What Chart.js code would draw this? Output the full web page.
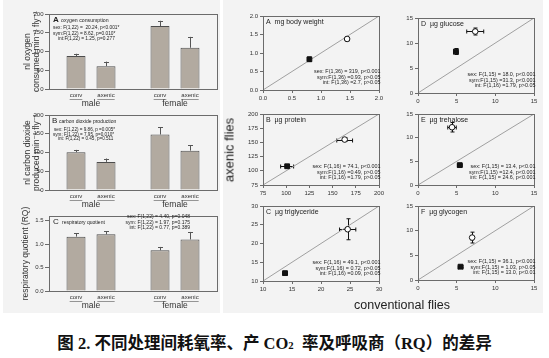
<!DOCTYPE html>
<html>
<head>
<meta charset="utf-8">
<script src="https://cdn.jsdelivr.net/npm/chart.js@4.4.1/dist/chart.umd.min.js"></script>
<style>
  html, body { margin: 0; padding: 0; background: #fff; }
  #fig { position: relative; width: 549px; height: 358px; overflow: hidden; font-family: 'Liberation Sans', Arial, sans-serif; }
  .panel { position: absolute; background: #f3f3f3; }
  canvas { position: absolute; }
  #ylab { position: absolute; left: 229px; top: 150px; transform: translate(-50%, -50%) rotate(-90deg); font-size: 13px; color: #222; white-space: nowrap; }
  #xlab { position: absolute; left: 402px; top: 305px; transform: translate(-50%, -50%); font-size: 12.5px; color: #222; white-space: nowrap; }
  #caption { position: absolute; left: 0; width: 549px; top: 330px; text-align: center; font-family: 'Liberation Serif', 'Noto Sans CJK SC', serif; font-weight: bold; font-size: 16.5px; color: #111; white-space: nowrap; }
  #caption sub { font-size: 0.65em; vertical-align: baseline; }
</style>
</head>
<body>
<div id="fig">
  <div class="panel" style="left:3px;top:0;width:217px;height:313px"></div>
  <div class="panel" style="left:223px;top:0;width:320px;height:313px"></div>
  <canvas id="barA"></canvas>
  <canvas id="barB"></canvas>
  <canvas id="barC"></canvas>
  <canvas id="scA"></canvas>
  <canvas id="scB"></canvas>
  <canvas id="scC"></canvas>
  <canvas id="scD"></canvas>
  <canvas id="scE"></canvas>
  <canvas id="scF"></canvas>
  <div id="ylab">axenic flies</div>
  <div id="xlab">conventional flies</div>
  <div id="caption">图 2. 不同处理间耗氧率、产 CO<sub>2</sub> &nbsp;率及呼吸商（RQ）的差异</div>
</div>
<script>
/* ── Data ── */
const sexes = ['male', 'female'];
const treatments = ['conv', 'axenic'];

// oxygen consumption, nl min-1 fly-1
const o2Axis = [0, 50, 100, 150, 200];
const o2Conv = [88, 168];
const o2ConvSe = [6, 14];
const o2Axenic = [61, 110];
const o2AxenicSe = [12, 29];

// carbon dioxide production
const co2Axis = [0, 50, 100, 150, 200];
const co2Conv = [101, 148];
const co2ConvSe = [6, 19];
const co2Axenic = [75, 105];
const co2AxenicSe = [9, 15];

// respiratory quotient
const rqAxis = [0, 0.5, 1.0, 1.5];
const rqConv = [1.16, 0.87];
const rqConvSe = [0.07, 0.07];
const rqAxenic = [1.21, 1.10];
const rqAxenicSe = [0.06, 0.16];

// conventional (x) vs axenic (y): [x, y], errors [xErr, yErr]
const bwAxis = [0, 0.5, 1.0, 1.5, 2.0];
const bwMale = [0.80, 0.83];
const bwMaleErr = [0.02, 0.06];
const bwFemale = [1.45, 1.38];
const bwFemaleErr = [0.03, 0.03];

const protAxis = [75, 100, 125, 150, 175, 200];
const protMale = [101, 108];
const protMaleErr = [7, 3];
const protFemale = [163, 155];
const protFemaleErr = [8.5, 3];

const tagAxis = [10, 15, 20, 25, 30];
const tagMale = [13.8, 12.1];
const tagMaleErr = [0.4, 0.4];
const tagFemale = [24.6, 23.8];
const tagFemaleErr = [1.4, 2.8];

const gluAxis = [0, 5, 10, 15];
const gluMale = [4.9, 8.3];
const gluMaleErr = [0.3, 0.6];
const gluFemale = [7.4, 12.3];
const gluFemaleErr = [1.1, 0.7];

const treAxis = [0, 5, 10, 15];
const treMale = [5.4, 4.2];
const treMaleErr = [0.3, 0.2];
const treFemale = [4.4, 12.2];
const treFemaleErr = [0.55, 1.0];

const glyAxis = [0, 5, 10, 15];
const glyMale = [5.5, 2.7];
const glyMaleErr = [0.3, 0.2];
const glyFemale = [7.0, 8.6];
const glyFemaleErr = [0.15, 1.1];

/* ── Look ── */
const FONT = "'Liberation Sans', 'DejaVu Sans', Arial, sans-serif";
const BAR_FILL = '#b2aaa0';
const BAR_EDGE = '#4d4d4d';
const AXIS = '#6b6b6b';
const INK = '#222';

Chart.defaults.font.family = FONT;
Chart.defaults.color = '#333';
Chart.defaults.animation = false;
Chart.defaults.responsive = false;
Chart.defaults.events = [];
Chart.defaults.plugins.legend.display = false;
Chart.defaults.plugins.tooltip.enabled = false;
Chart.defaults.plugins.colors = { enabled: false };

function place(id, left, top, w, h) {
  const c = document.getElementById(id);
  c.width = w; c.height = h;
  c.style.left = left + 'px'; c.style.top = top + 'px';
  return c;
}

/* ── Plugins ── */
const frame = {
  id: 'frame',
  afterDatasetsDraw(chart) {
    const { ctx, chartArea: a } = chart;
    ctx.save();
    ctx.strokeStyle = AXIS;
    ctx.lineWidth = 1;
    ctx.strokeRect(Math.round(a.left) + 0.5, Math.round(a.top) + 0.5,
                   Math.round(a.right - a.left), Math.round(a.bottom - a.top));
    ctx.restore();
  }
};

function notes(items) {
  return {
    id: 'notes',
    afterDraw(chart) {
      const { ctx, chartArea: a } = chart;
      items.forEach(n => {
        ctx.save();
        ctx.font = (n.bold ? 'bold ' : '') + n.size + 'px ' + FONT;
        ctx.fillStyle = INK;
        ctx.textAlign = n.align || 'left';
        ctx.textBaseline = 'middle';
        const x = n.right ? a.right + n.x : a.left + n.x;
        const y = n.bottom ? a.bottom + n.y : a.top + n.y;
        ctx.fillText(n.text, x, y);
        ctx.restore();
      });
    }
  };
}

const barErrors = {
  id: 'barErrors',
  afterDatasetsDraw(chart) {
    const { ctx, scales: { y } } = chart;
    ctx.save();
    ctx.strokeStyle = '#555';
    ctx.lineWidth = 1;
    chart.data.datasets.forEach((ds, i) => {
      chart.getDatasetMeta(i).data.forEach((bar, j) => {
        const top = y.getPixelForValue(ds.data[j] + ds.se[j]);
        const x = Math.round(bar.x) + 0.5;
        ctx.beginPath();
        ctx.moveTo(x, bar.y);
        ctx.lineTo(x, top);
        ctx.moveTo(x - 2.5, Math.round(top) + 0.5);
        ctx.lineTo(x + 2.5, Math.round(top) + 0.5);
        ctx.stroke();
      });
    });
    ctx.restore();
  }
};

const barSubLabels = {
  id: 'barSubLabels',
  afterDraw(chart) {
    const { ctx, chartArea: a } = chart;
    ctx.save();
    ctx.font = '6px ' + FONT;
    ctx.fillStyle = '#333';
    ctx.strokeStyle = '#555';
    ctx.textAlign = 'center';
    ctx.textBaseline = 'middle';
    chart.data.datasets.forEach((ds, i) => {
      chart.getDatasetMeta(i).data.forEach(bar => {
        const y = a.bottom + 6.5;
        ctx.fillText(ds.label, bar.x, y);
        const w = ctx.measureText(ds.label).width;
        ctx.beginPath();
        ctx.moveTo(bar.x - w / 2, Math.round(y + 3) + 0.5);
        ctx.lineTo(bar.x + w / 2, Math.round(y + 3) + 0.5);
        ctx.lineWidth = 0.6;
        ctx.stroke();
      });
    });
    ctx.restore();
  }
};

const xyErrors = {
  id: 'xyErrors',
  beforeDatasetsDraw(chart) {
    const { ctx, scales: { x, y } } = chart;
    ctx.save();
    ctx.strokeStyle = '#111';
    ctx.lineWidth = 1;
    chart.data.datasets.forEach((ds, i) => {
      if (!ds.err) return;
      chart.getDatasetMeta(i).data.forEach((pt, j) => {
        const v = ds.data[j];
        const [ex, ey] = ds.err;
        const x1 = x.getPixelForValue(v.x - ex), x2 = x.getPixelForValue(v.x + ex);
        const y1 = y.getPixelForValue(v.y - ey), y2 = y.getPixelForValue(v.y + ey);
        const px = Math.round(pt.x) + 0.5, py = Math.round(pt.y) + 0.5;
        ctx.beginPath();
        ctx.moveTo(x1, py); ctx.lineTo(x2, py);
        ctx.moveTo(x1, py - 2); ctx.lineTo(x1, py + 2);
        ctx.moveTo(x2, py - 2); ctx.lineTo(x2, py + 2);
        ctx.moveTo(px, y1); ctx.lineTo(px, y2);
        ctx.moveTo(px - 2, y1); ctx.lineTo(px + 2, y1);
        ctx.moveTo(px - 2, y2); ctx.lineTo(px + 2, y2);
        ctx.stroke();
      });
    });
    ctx.restore();
  }
};

/* ── Bar charts (left) ── */
function barChart(id, top, conv, convSe, axe, axeSe, axis, yMax, yTitle, titlePad, fmt, items) {
  const canvas = place(id, 0, top, 220, 110);
  const barStyle = {
    backgroundColor: BAR_FILL, borderColor: BAR_EDGE, borderWidth: 1,
    categoryPercentage: 0.714, barPercentage: 0.633,
  };
  new Chart(canvas, {
    type: 'bar',
    data: {
      labels: sexes,
      datasets: [
        Object.assign({ label: treatments[0], data: conv, se: convSe }, barStyle),
        Object.assign({ label: treatments[1], data: axe, se: axeSe }, barStyle),
      ]
    },
    options: {
      layout: { padding: { top: 14, right: 3, left: 0, bottom: 0 } },
      scales: {
        x: {
          grid: { display: false, drawTicks: false },
          border: { display: false },
          ticks: { font: { size: 8.5 }, padding: 10, color: '#333' },
          afterFit: s => { s.height = 21; }
        },
        y: {
          min: axis[0], max: yMax,
          afterBuildTicks: s => { s.ticks = axis.map(v => ({ value: v })); },
          ticks: { font: { size: 6 }, padding: 1.5, color: '#333', callback: fmt },
          grid: { drawOnChartArea: false, tickLength: 4, color: AXIS },
          border: { display: false },
          title: { display: true, text: yTitle, font: { size: 8.5, lineHeight: 1.1 }, color: '#333', padding: { top: titlePad, bottom: 0 } },
          afterFit: s => { s.width = 49; }
        }
      }
    },
    plugins: [frame, barErrors, barSubLabels, notes(items)]
  });
}

const intFmt = v => String(v);
const oneDec = v => v.toFixed(1);

barChart('barA', 0, o2Conv, o2ConvSe, o2Axenic, o2AxenicSe, o2Axis, 200,
  ['nl oxygen', 'consumed min⁻¹ fly⁻¹'], 23, intFmt, [
    { text: 'A', x: 4, y: 6, size: 8, bold: true },
    { text: 'oxygen consumption', x: 12, y: 6.5, size: 5.2 },
    { text: 'sex: F(1,22) =  20.24, p<0.001*', x: 4, y: 14, size: 4.8 },
    { text: 'sym:F(1,22) = 8.62, p=0.010*', x: 4, y: 19.5, size: 4.8 },
    { text: 'int:F(1,22) = 1.25, p=0.277', x: 9, y: 25, size: 4.8 },
  ]);

barChart('barB', 101, co2Conv, co2ConvSe, co2Axenic, co2AxenicSe, co2Axis, 200,
  ['nl carbon dioxide', 'produced min⁻¹ fly⁻¹'], 23, intFmt, [
    { text: 'B', x: 3, y: 6, size: 8 },
    { text: 'carbon dioxide production', x: 10, y: 6.5, size: 5 },
    { text: 'sex: F(1,22) = 9.86, p =0.005*', x: 5, y: 15, size: 4.6 },
    { text: 'sym: F(1,22) = 7.95, p=0.010*', x: 4, y: 19.5, size: 4.6 },
    { text: 'int: F(1,22) = 0.45, p=0.511', x: 9, y: 24, size: 4.6 },
  ]);

barChart('barC', 202, rqConv, rqConvSe, rqAxenic, rqAxenicSe, rqAxis, 1.6,
  'respiratory quotient (RQ)', 21, oneDec, [
    { text: 'C', x: 4, y: 6, size: 8 },
    { text: 'respiratory quotient', x: 13, y: 6.5, size: 5 },
    { text: 'sex: F(1,22) = 4.40, p=0.048', x: -27, y: 1, size: 5, right: true, align: 'right' },
    { text: 'sym: F(1,22) = 1.97, p=0.175', x: -27, y: 6.5, size: 5, right: true, align: 'right' },
    { text: 'int: F(1,22) = 0.77, p=0.389', x: -27, y: 12, size: 5, right: true, align: 'right' },
  ]);

/* ── Scatter charts (right) ── */
function scatterChart(id, areaLeft, areaTop, areaBottom, axis, male, maleErr, female, femaleErr, fmt, title, stats) {
  const canvas = place(id, areaLeft - 27, areaTop - 6, 27 + 116 + 8, 6 + (areaBottom - areaTop) + 14);
  const lo = axis[0], hi = axis[axis.length - 1];
  const scale = {
    min: lo, max: hi,
    afterBuildTicks: s => { s.ticks = axis.map(v => ({ value: v })); },
    ticks: { font: { size: 6 }, padding: 2, color: '#333', callback: fmt },
    grid: { drawOnChartArea: false, tickLength: 3, color: AXIS },
    border: { display: false },
  };
  new Chart(canvas, {
    type: 'scatter',
    data: {
      datasets: [
        { data: [{ x: lo, y: lo }, { x: hi, y: hi }], showLine: true, borderColor: '#a0a0a0', borderWidth: 1, pointRadius: 0, order: 3 },
        { data: [{ x: male[0], y: male[1] }], err: maleErr, pointStyle: 'rect', pointRadius: 3.4, backgroundColor: '#111', borderColor: '#111', borderWidth: 1, order: 1 },
        { data: [{ x: female[0], y: female[1] }], err: femaleErr, pointStyle: 'circle', pointRadius: 2.8, backgroundColor: '#fff', borderColor: '#111', borderWidth: 1, order: 1 },
      ]
    },
    options: {
      layout: { padding: { top: 6, right: 8, left: 0, bottom: 0 } },
      scales: {
        x: Object.assign({}, scale, { afterFit: s => { s.height = 14; } }),
        y: Object.assign({}, scale, { afterFit: s => { s.width = 27; } }),
      }
    },
    plugins: [xyErrors, frame, notes([
      { text: title, x: 3, y: 6.5, size: 7 },
      ...stats.map((t, i) => ({ text: t, x: 1.5, y: -7 - (stats.length - 1 - i) * 5.7, size: 5.4, right: true, bottom: true, align: 'right' }))
    ])]
  });
}

scatterChart('scA', 263, 16, 90, bwAxis, bwMale, bwMaleErr, bwFemale, bwFemaleErr, oneDec,
  'A  mg body weight',
  ['sex: F(1,36) = 319, p<0.001', 'sym:F(1,36) =0.93, p>0.05', 'int: F(1,36) =2.7, p>0.05']);

scatterChart('scB', 263, 114, 185, protAxis, protMale, protMaleErr, protFemale, protFemaleErr, intFmt,
  'B  µg protein',
  ['sex: F(1,16) = 74.1, p<0.001', 'sym:F(1,16) =0.49, p>0.05', 'int: F(1,16) =1.79, p>0.05']);

scatterChart('scC', 263, 206, 281, tagAxis, tagMale, tagMaleErr, tagFemale, tagFemaleErr, intFmt,
  'C  µg triglyceride',
  ['sex: F(1,16) = 49.1, p<0.001', 'sym:F(1,16) = 0.72, p>0.05', 'int: F(1,16) =0.09, p>0.05']);

scatterChart('scD', 418, 18, 93, gluAxis, gluMale, gluMaleErr, gluFemale, gluFemaleErr, intFmt,
  'D  µg glucose',
  ['sex: F(1,15) = 18.0, p<0.001', 'sym:F(1,15) =31.3, p<0.001', 'int: F(1,16) =1.79, p>0.05']);

scatterChart('scE', 418, 114, 185, treAxis, treMale, treMaleErr, treFemale, treFemaleErr, intFmt,
  'E  µg trehalose',
  ['sex: F(1,15) = 13.4, p<0.01', 'sym:F(1,15) =12.4, p<0.001', 'int: F(1,15) = 24.6, p<0.001']);

scatterChart('scF', 418, 206, 280, glyAxis, glyMale, glyMaleErr, glyFemale, glyFemaleErr, intFmt,
  'F  µg glycogen',
  ['sex: F(1,15) = 36.1, p<0.001', 'sym:F(1,15) = 1.03, p>0.05', 'int: F(1,15) = 13.0, p<0.01']);
</script>
</body>
</html>
